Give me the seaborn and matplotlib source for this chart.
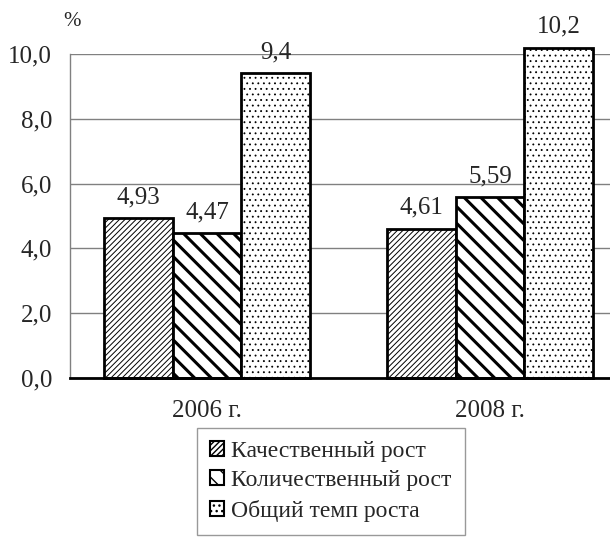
import pandas as pd
import matplotlib
matplotlib.use('Agg')
import matplotlib.pyplot as plt
import seaborn as sns
from matplotlib.patches import Patch

# данные с картинки
years = ['2006 г.', '2008 г.']
series = ['Качественный рост', 'Количественный рост', 'Общий темп роста']
kach = [4.93, 4.61]
kol = [4.47, 5.59]
obsh = [9.4, 10.2]
labels = [['4,93', '4,61'], ['4,47', '5,59'], ['9,4', '10,2']]

df = pd.DataFrame({
    'год': years * 3,
    'серия': [series[0]] * 2 + [series[1]] * 2 + [series[2]] * 2,
    'значение': kach + kol + obsh,
})

sns.set_style('white')
plt.rcParams['font.family'] = ['Liberation Serif', 'DejaVu Serif']
plt.rcParams['hatch.color'] = 'black'
plt.rcParams['hatch.linewidth'] = 1.0

FS = 18

fig = plt.figure(figsize=(6.1, 5.38), dpi=100)
ax = fig.add_axes([70 / 610, 1 - 378 / 538, 1 - 70 / 610, (378 - 54) / 538])

sns.barplot(data=df, x='год', y='значение', hue='серия', hue_order=series,
            palette=['white'] * 3, width=0.728, edgecolor='black', linewidth=2,
            legend=False, ax=ax, zorder=3)

hatches = ['//////', '\\\\', '...']
hatch_lw = [0.7, 2.2, 0.6]
for i, bar in enumerate(ax.patches):
    s = i // 2
    bar.set_hatch(hatches[s])
    if hasattr(bar, 'set_hatch_linewidth'):
        bar.set_hatch_linewidth(hatch_lw[s])
    bar.set_clip_on(False)
    ax.text(bar.get_x() + bar.get_width() / 2, bar.get_height() + 0.3,
            labels[s][i % 2], ha='center', va='bottom', fontsize=FS)

ax.set_ylim(0, 10)
ax.set_xlim(-0.484, 1.424)
ax.set_yticks([0, 2, 4, 6, 8, 10])
ax.set_yticklabels(['0,0', '2,0', '4,0', '6,0', '8,0', '10,0'], fontsize=FS)
ax.tick_params(axis='y', direction='out', length=5, color='#808080', pad=8)
ax.tick_params(axis='x', length=0, labelsize=FS, pad=16)
ax.set_xlabel('')
ax.set_ylabel('')
ax.grid(axis='y', color='#808080', linewidth=1, zorder=0)
ax.set_axisbelow(True)
for sp in ['top', 'right']:
    ax.spines[sp].set_visible(False)
ax.spines['left'].set_color('#808080')
ax.spines['left'].set_linewidth(1)
ax.spines['bottom'].set_color('black')
ax.spines['bottom'].set_linewidth(2)
ax.spines['bottom'].set_zorder(4)

fig.text(72 / 610, 1 - 22 / 538, '%', ha='center', va='center', fontsize=15)

handles = []
for s in range(3):
    p = Patch(facecolor='white', edgecolor='black', hatch=hatches[s], linewidth=1.5, label=series[s])
    handles.append(p)
leg = fig.legend(handles=handles, loc='upper left', bbox_to_anchor=(197 / 610, 1 - 428 / 538),
                 borderaxespad=0, frameon=True, fancybox=False, edgecolor='#808080', fontsize=17,
                 handlelength=0.6, handleheight=0.6, handletextpad=0.3, labelspacing=0.35,
                 borderpad=0.55)
leg.get_frame().set_linewidth(1)

fig.savefig('out.png', dpi=100)
